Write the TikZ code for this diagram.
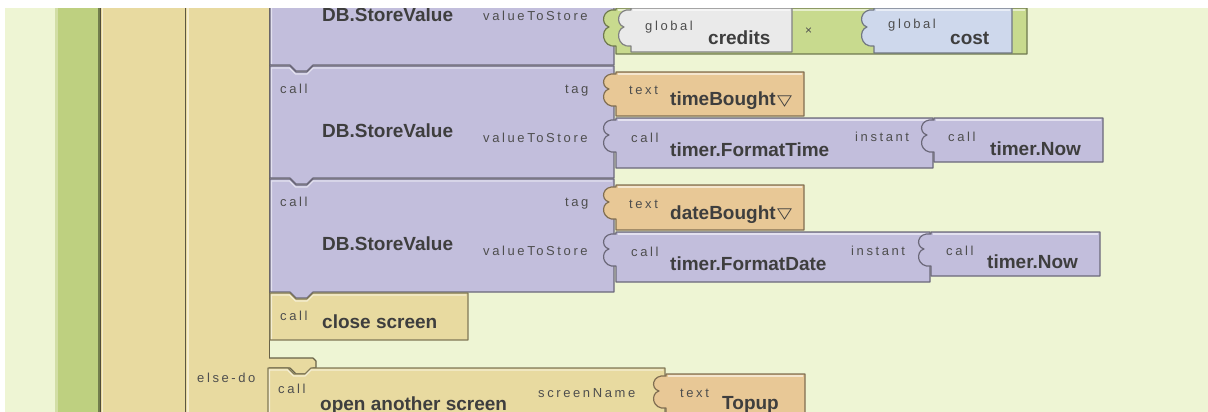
\documentclass[tikz,border=0pt]{standalone}
\usepackage{fontspec}
\setmainfont{Liberation Sans}
\newfontfamily\lblfont[LetterSpace=20]{Liberation Sans}
\newfontfamily\trifont{DejaVu Sans}
\usetikzlibrary{positioning}

\definecolor{canvas}{RGB}{238,245,212}
\definecolor{ctrlgreen}{RGB}{190,208,128}
\definecolor{ctrltan}{RGB}{232,218,160}
\definecolor{procpurple}{RGB}{194,190,220}
\definecolor{textorange}{RGB}{232,200,150}
\definecolor{mathgreen}{RGB}{200,218,142}
\definecolor{vargrey}{RGB}{234,234,234}
\definecolor{varblue}{RGB}{206,216,236}
\definecolor{labelgrey}{RGB}{78,78,78}
\definecolor{namegrey}{RGB}{62,62,62}

\tikzset{
	block/.style={
		line width=1.2pt,
		line join=round,
	},
	shine/.style={
		white,
		opacity=0.55,
		line width=1.2pt,
	},
	lbl/.style={
		inner sep=0pt,
		anchor=base west,
		text=labelgrey,
		font={\lblfont\fontsize{13}{13}\selectfont}
	},
	blockname/.style={
		inner sep=0pt,
		anchor=base west,
		text=namegrey,
		font={\bfseries\fontsize{19}{19}\selectfont}
	},
	droptri/.style={
		inner sep=0pt,
		anchor=base west,
		text=namegrey,
		font={\trifont\bfseries\fontsize{15}{15}\selectfont}
	}
}

% statement block with notch on top and tab below: colour, x1, y1, x2, y2
\newcommand{\stmtblock}[5]{%
	\filldraw[block, fill=#1, draw=#1!55!black]
	(#2,#3) -- ++(20,0) -- ++(6,6) -- ++(11,0) -- ++(6,-6) -- (#4,#3) -- (#4,#5)
	-- (#2+43,#5) -- ++(-6,6) -- ++(-11,0) -- ++(-6,-6) -- (#2,#5) -- cycle;
	\draw[shine] (#2+1.5,#5-1) -- (#2+1.5,#3+2) -- (#2+19.5,#3+2) -- ++(6,6) -- ++(11.5,0) -- ++(6,-6) -- (#4-2,#3+2);}
% last statement of a slot, no tab below
\newcommand{\laststmt}[5]{%
	\filldraw[block, fill=#1, draw=#1!55!black]
	(#2,#3) -- ++(20,0) -- ++(6,6) -- ++(11,0) -- ++(6,-6) -- (#4,#3) -- (#4,#5)
	-- (#2,#5) -- cycle;
	\draw[shine] (#2+1.5,#5-1) -- (#2+1.5,#3+2) -- (#2+19.5,#3+2) -- ++(6,6) -- ++(11.5,0) -- ++(6,-6) -- (#4-2,#3+2);}
% value block with plug on the left: [plug height] colour, x1, y1, x2, y2
\newcommand{\valblock}[6][34]{%
	\filldraw[block, fill=#2, draw=#2!55!black]
	(#3,#4) -- (#5,#4) -- (#5,#6) -- (#3,#6) -- (#3,#4+#1)
	.. controls (#3-14,#4+#1+2) and (#3-16,#4+0.57*#1) .. (#3-7,#4+0.5*#1)
	.. controls (#3-16,#4+0.43*#1) and (#3-14,#4) .. (#3,#4+2) -- cycle;
	\draw[shine] (#3+1.5,#4+2) -- (#5-2,#4+2);}

\begin{document}
\begin{tikzpicture}[x=1pt, y=-1pt]
	\useasboundingbox (0,0) rectangle (1208,412);
	\clip (0,0) rectangle (1208,412);
	\fill[canvas] (0,0) rectangle (1208,412);
	
	% outer event block and the two nested control blocks
	\fill[ctrlgreen] (55,0) rectangle (100,412);
	\fill[ctrlgreen!70!white] (55,0) rectangle (58,412);
	\fill[ctrlgreen!60!black] (98,0) rectangle (100,412);
	\fill[ctrltan] (100,0) rectangle (185,412);
	\fill[ctrltan] (185,0) rectangle (270,412);
	\draw[ctrltan!35!black, line width=1.2pt] (100.6,0) -- (100.6,412);
	\draw[ctrltan!50!white, line width=1.5pt] (102.5,0) -- (102.5,412);
	\draw[ctrltan!40!black, line width=1.5pt] (185.5,0) -- (185.5,412);
	\draw[ctrltan!50!white, line width=1.5pt] (188,0) -- (188,412);
	\draw[ctrltan!45!black, line width=1pt] (269.5,0) -- (269.5,362);
	% lip of the else-do slot
	\filldraw[block, fill=ctrltan, draw=ctrltan!45!black]
	(266,358) -- (313,358) -- (316,361) -- (316,368) -- (313,368) -- (307,374)
	-- (296,374) -- (290,368) -- (266,368) -- cycle;
	\fill[ctrltan] (264,355) rectangle (268.9,372);
	
	% first DB.StoreValue
	\stmtblock{procpurple}{270}{-50}{614}{65}
	\valblock[38]{mathgreen}{616}{8}{1027}{54}
	\valblock[38]{vargrey}{631}{8}{792}{52}
	\valblock[38]{varblue}{874}{8}{1012}{53}
	\node[blockname] (store1) at (322,22) {DB.StoreValue};
	\node[lbl] (value1) at (483,21) {valueToStore};
	\node[lbl] (global1) at (645,31) {global};
	\node[blockname] (credits) at (708,45) {credits};
	\node[lbl, font={\fontsize{12}{12}\selectfont}] (times) at (805,35) {×};
	\node[lbl] (global2) at (888,29) {global};
	\node[blockname] (cost) at (950,45) {cost};
	
	% second DB.StoreValue
	\stmtblock{procpurple}{270}{66}{614}{178}
	\valblock{textorange}{616}{72}{804}{116}
	\valblock{procpurple}{616}{118}{933}{168}
	\valblock{procpurple}{934}{118}{1103}{162}
	\node[lbl] (call2) at (280,93) {call};
	\node[lbl] (tag2) at (565,93) {tag};
	\node[blockname] (store2) at (322,137) {DB.StoreValue};
	\node[lbl] (value2) at (483,142) {valueToStore};
	\node[lbl] (text2) at (629,95) {text};
	\node[blockname] (timebought) at (670,106) {timeBought};
	\node[droptri] (tri2) at ([xshift=1pt,yshift=1pt]timebought.base east) {\scalebox{1.3}[1]{▽}};
	\node[lbl] (callfmt2) at (631,142) {call};
	\node[blockname] (fmttime) at (670,156) {timer.FormatTime};
	\node[lbl] (instant2) at (855,141) {instant};
	\node[lbl] (callnow2) at (948,141) {call};
	\node[blockname] (now2) at (990,155) {timer.Now};
	
	% third DB.StoreValue
	\stmtblock{procpurple}{270}{179}{614}{292}
	\valblock{textorange}{616}{185}{804}{230}
	\valblock{procpurple}{616}{232}{930}{282}
	\valblock{procpurple}{931}{232}{1100}{276}
	\node[lbl] (call3) at (280,206) {call};
	\node[lbl] (tag3) at (565,206) {tag};
	\node[blockname] (store3) at (322,250) {DB.StoreValue};
	\node[lbl] (value3) at (483,255) {valueToStore};
	\node[lbl] (text3) at (629,208) {text};
	\node[blockname] (datebought) at (670,219) {dateBought};
	\node[droptri] (tri3) at ([xshift=1pt,yshift=1pt]datebought.base east) {\scalebox{1.3}[1]{▽}};
	\node[lbl] (callfmt3) at (631,256) {call};
	\node[blockname] (fmtdate) at (670,270) {timer.FormatDate};
	\node[lbl] (instant3) at (851,255) {instant};
	\node[lbl] (callnow3) at (946,255) {call};
	\node[blockname] (now3) at (987,268) {timer.Now};
	
	% close screen
	\laststmt{ctrltan}{270}{293}{468}{340}
	\node[lbl] (callclose) at (280,320) {call};
	\node[blockname] (close) at (322,328) {close screen};
	
	% else branch
	\node[lbl] (elsedo) at (197,382) {else-do};
	\laststmt{ctrltan}{268}{368}{665}{425}
	\valblock{textorange}{666}{374}{805}{425}
	\node[lbl] (callopen) at (278,393) {call};
	\node[blockname] (open) at (320,410) {open another screen};
	\node[lbl] (scrname) at (538,397) {screenName};
	\node[lbl] (text4) at (680,397) {text};
	\node[blockname] (topup) at (722,409) {Topup};
	
	% window edge
	\fill[white] (0,0) rectangle (1208,8);
	\fill[white] (0,0) rectangle (5,412);
\end{tikzpicture}
\end{document}
